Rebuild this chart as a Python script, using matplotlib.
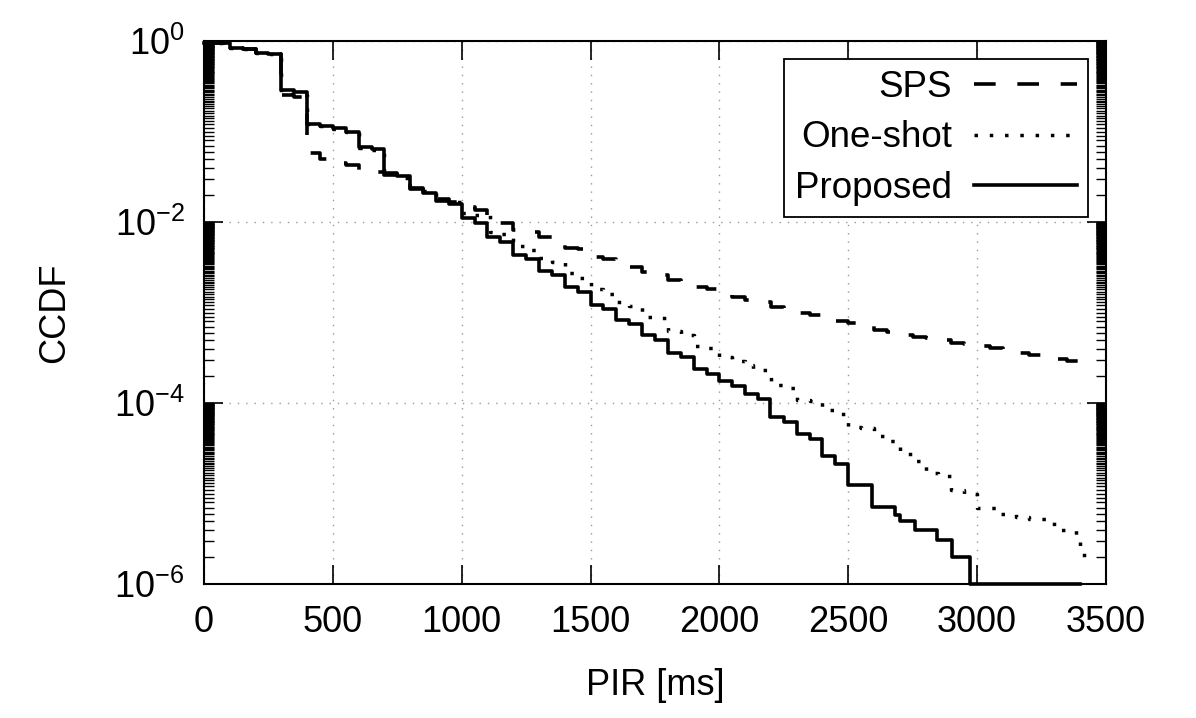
import matplotlib
matplotlib.use('Agg')
import matplotlib.pyplot as plt
from matplotlib.ticker import FixedLocator, FuncFormatter, NullFormatter
import numpy as np

plt.rcParams['font.family'] = ['Liberation Sans', 'DejaVu Sans']
plt.rcParams['mathtext.fontset'] = 'custom'
plt.rcParams['mathtext.rm'] = 'Liberation Sans'
plt.rcParams['mathtext.it'] = 'Liberation Sans:italic'
plt.rcParams['mathtext.bf'] = 'Liberation Sans:bold'

# CCDF step curves (x = PIR in ms, y = CCDF level after x)
sps_x = [0, 100, 150, 200, 250, 300, 350, 400, 450, 500, 550, 600, 650, 700, 750,
         800, 850, 900, 950, 1000, 1050, 1100, 1150, 1200, 1250, 1300, 1350, 1400,
         1450, 1500, 1550, 1600, 1650, 1700, 1750, 1800, 1850, 1900, 1950, 2000,
         2050, 2100, 2150, 2200, 2250, 2300, 2350, 2400, 2450, 2500, 2550, 2600,
         2650, 2700, 2750, 2800, 2850, 2900, 2950, 3000, 3050, 3100, 3150, 3200,
         3250, 3300, 3350, 3400, 3430]
sps_y = [0.94, 0.84, 0.82, 0.74, 0.72, 0.25, 0.24, 0.058, 0.050, 0.045, 0.043,
         0.038, 0.036, 0.033, 0.031, 0.024, 0.022, 0.018, 0.0168, 0.0145, 0.0137,
         0.0105, 0.0098, 0.0082, 0.0077, 0.0068, 0.0063, 0.0052, 0.0050, 0.0041,
         0.0039, 0.0034, 0.0032, 0.0028, 0.0026, 0.0023, 0.0022, 0.0019, 0.0018,
         0.00160, 0.00150, 0.00136, 0.00130, 0.00116, 0.00112, 0.00100, 0.00094,
         0.00085, 0.00080, 0.00076, 0.00072, 0.00064, 0.00061, 0.00057, 0.00054,
         0.00052, 0.00050, 0.00046, 0.00045, 0.00043, 0.00041, 0.00038, 0.00036,
         0.00034, 0.00033, 0.00031, 0.00029, 0.00028, 0.00028]

oneshot_x = [0, 100, 150, 200, 250, 300, 350, 400, 450, 500, 550, 600, 650, 700,
             750, 800, 850, 900, 950, 1000, 1050, 1110, 1150, 1200, 1250, 1300, 1350,
             1400, 1450, 1500, 1550, 1600, 1650, 1700, 1750, 1800, 1850, 1900, 1950,
             2000, 2050, 2100, 2130, 2200, 2250, 2300, 2350, 2400, 2450, 2500, 2550,
             2600, 2650, 2700, 2750, 2800, 2850, 2900, 2950, 3000, 3080, 3150, 3200,
             3300, 3385, 3400, 3440]
oneshot_y = [0.94, 0.84, 0.82, 0.74, 0.72, 0.26, 0.25, 0.12, 0.114, 0.106, 0.098,
             0.066, 0.062, 0.034, 0.031, 0.024, 0.022, 0.0175, 0.0165, 0.0125, 0.0118,
             0.0078, 0.0073, 0.0055, 0.0049, 0.0040, 0.0036, 0.0027, 0.0024, 0.0018,
             0.0016, 0.0013, 0.00118, 0.00090, 0.00086, 0.00062, 0.00057, 0.00043,
             0.00041, 0.00032, 0.00029, 0.00026, 0.00023, 0.000160, 0.000145, 0.000108,
             0.000104, 0.000083, 0.000075, 0.000054, 0.000053, 0.000043, 0.000038,
             0.000027, 0.000023, 0.0000170, 0.0000155, 0.0000110, 0.0000100, 0.0000070,
             0.0000060, 0.0000055, 0.0000052, 0.0000040, 0.0000030, 0.0000021, 0.0000021]

prop_x = [0, 100, 150, 200, 250, 300, 350, 400, 450, 500, 550, 600, 650, 700, 750,
          800, 850, 900, 950, 1000, 1050, 1100, 1150, 1200, 1250, 1300, 1350, 1400,
          1450, 1500, 1550, 1600, 1650, 1700, 1750, 1800, 1850, 1900, 1950, 2000,
          2050, 2100, 2150, 2195, 2250, 2300, 2350, 2400, 2450, 2500, 2592, 2680,
          2700, 2760, 2845, 2902, 2972, 3400]
prop_y = [0.94, 0.84, 0.82, 0.74, 0.72, 0.285, 0.27, 0.122, 0.116, 0.108, 0.100,
          0.068, 0.064, 0.035, 0.032, 0.023, 0.021, 0.0172, 0.0160, 0.0110, 0.0098,
          0.0068, 0.0060, 0.0043, 0.0039, 0.0029, 0.0026, 0.0019, 0.0017, 0.00122,
          0.00110, 0.00082, 0.00074, 0.00056, 0.00050, 0.00036, 0.00032, 0.00024,
          0.00021, 0.000175, 0.000155, 0.000125, 0.000112, 0.000070, 0.000062,
          0.000046, 0.000040, 0.000026, 0.000021, 0.0000123, 0.0000071, 0.0000058,
          0.0000050, 0.0000040, 0.0000031, 0.0000020, 0.0000010, 0.0000010]

x_ticks = [0, 500, 1000, 1500, 2000, 2500, 3000, 3500]
y_major = [1e-6, 1e-4, 1e-2, 1e0]

fig = plt.figure(figsize=(11.96, 7.18), dpi=100)
ax = fig.add_axes([0.1706, 0.1866, 0.7541, 0.7563])

ax.plot(sps_x, sps_y, drawstyle='steps-post', color='black', lw=2.6,
        linestyle=(0, (6, 6)), label='SPS', zorder=3)
ax.plot(oneshot_x, oneshot_y, drawstyle='steps-post', color='black', lw=2.5,
        linestyle=(0, (1, 3.4)), label='One-shot', zorder=3)
ax.plot(prop_x, prop_y, drawstyle='steps-post', color='black', lw=2.6,
        linestyle='-', label='Proposed', zorder=4, clip_on=False)

ax.set_yscale('log')
ax.set_xlim(0, 3500)
ax.set_ylim(1e-6, 1)

ax.set_xticks(x_ticks)
ax.yaxis.set_major_locator(FixedLocator(y_major))
minor = []
for base in [1e-6, 1e-4, 1e-2]:
    for k in range(2, 100):
        minor.append(k * base)
ax.yaxis.set_minor_locator(FixedLocator(minor))
ax.yaxis.set_minor_formatter(NullFormatter())
ax.yaxis.set_major_formatter(FuncFormatter(
    lambda v, p: r'$\mathdefault{10^{%d}}$' % int(round(np.log10(v)))))

ax.tick_params(axis='both', which='major', direction='in', length=14, width=1.2,
               top=True, right=True, labelsize=26, pad=14)
ax.tick_params(axis='y', which='minor', direction='in', length=7.5, width=1.0,
               left=True, right=True)
ax.tick_params(axis='x', which='major', pad=15)

for s in ax.spines.values():
    s.set_linewidth(1.5)

ax.grid(True, which='major', linestyle=(0, (1, 5)), color='#999999', lw=1.0)

ax.set_xlabel('PIR [ms]', fontsize=26, labelpad=20)
ax.set_ylabel('CCDF', fontsize=26, labelpad=30)

leg = ax.legend(loc='upper right', bbox_to_anchor=(0.980, 0.967), borderaxespad=0,
                fontsize=26.5, markerfirst=False, handlelength=2.8, handletextpad=0.6,
                labelspacing=0.42, borderpad=0.3, fancybox=False, framealpha=1)
leg.get_frame().set_edgecolor('black')
leg.get_frame().set_linewidth(1.3)

fig.savefig('out.png', dpi=100)
